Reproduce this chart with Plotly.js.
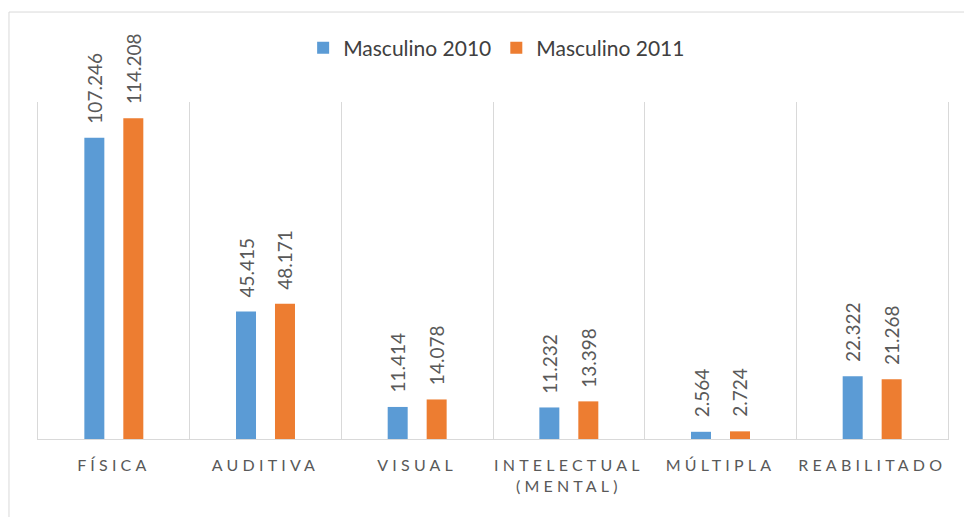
<!DOCTYPE html>
<html><head><meta charset="utf-8">
<script src="https://cdn.plot.ly/plotly-3.0.1.min.js"></script>
<style>
body{margin:0;background:#fff;}
#chart{width:964px;height:517px;}
.xtick text{letter-spacing:4.2px;}
</style></head>
<body><div id="chart"></div>
<script>
const categories = ["FÍSICA","AUDITIVA","VISUAL","INTELECTUAL<br>(MENTAL)","MÚLTIPLA","REABILITADO"];
const masc2010 = [107.246, 45.415, 11.414, 11.232, 2.564, 22.322];
const masc2011 = [114.208, 48.171, 14.078, 13.398, 2.724, 21.268];
const seriesNames = ["Masculino 2010","Masculino 2011"];
const colors = ["#5b9bd5","#ed7d31"];
const fmt = v => v.toFixed(3);

const traces = [masc2010, masc2011].map((vals,i)=>({
  type:'bar', name:seriesNames[i], x:categories, y:vals,
  marker:{color:colors[i]}, hoverinfo:'skip'
}));

const annotations = [];
[masc2010, masc2011].forEach((vals,i)=>{
  vals.forEach((v,j)=>{
    annotations.push({x:categories[j], y:v, xref:'x', yref:'y', text:fmt(v),
      showarrow:false, textangle:-90, yanchor:'bottom', xanchor:'center',
      xshift: i===0 ? -19.5 : 19.5, yshift:12,
      font:{family:'Lato, Carlito, sans-serif', size:19, color:'#595959'}});
  });
});

const layout = {
  width:964, height:517,
  margin:{l:38, r:16, t:102, b:78},
  paper_bgcolor:'#fff', plot_bgcolor:'#fff',
  barmode:'group', bargap:0.486, bargroupgap:0.487,
  showlegend:true,
  legend:{orientation:'h', x:0.504, xanchor:'center', y:1.16, yanchor:'middle',
    font:{family:'Lato, Carlito, sans-serif', size:21, color:'#404040'}, itemwidth:30},
  xaxis:{type:'category', tickson:'boundaries', showgrid:true, gridcolor:'#d9d9d9', gridwidth:1,
    showline:true, linecolor:'#d9d9d9', linewidth:1, ticks:'', range:[-0.5,5.5], ticklabelstandoff:12,
    tickfont:{family:'Lato, Carlito, sans-serif', size:16, color:'#595959'}},
  yaxis:{range:[0,120], showgrid:false, zeroline:false, showticklabels:false, ticks:'',
    showline:true, mirror:true, linecolor:'#d9d9d9', linewidth:1, fixedrange:true},
  annotations:annotations,
  shapes:[
    {type:'line', xref:'paper', yref:'paper', x0:-0.0319, x1:-0.0319, y0:1.267, y1:-0.3, line:{color:'#d9d9d9', width:1}},
    {type:'line', xref:'paper', yref:'paper', x0:-0.0319, x1:1.05, y0:1.267, y1:1.267, line:{color:'#d9d9d9', width:1}}
  ]
};
Plotly.newPlot('chart', traces, layout, {displayModeBar:false, staticPlot:true});
</script></body></html>
